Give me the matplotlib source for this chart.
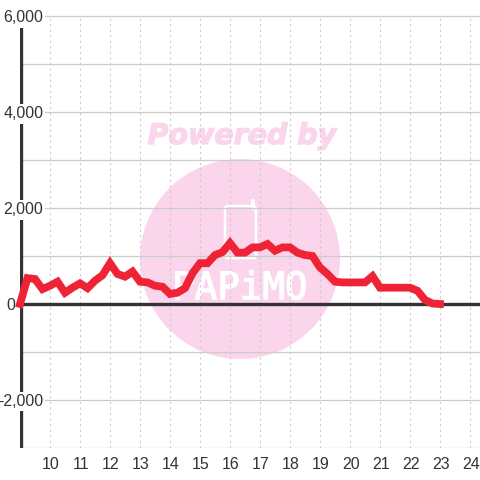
import matplotlib
matplotlib.use("Agg")
import matplotlib.pyplot as plt
import matplotlib.patheffects as pe
from matplotlib.patches import Circle, FancyBboxPatch

hours = [9 + i * 0.25 for i in range(57)]
values = [0, 540, 520, 310, 380, 465, 235, 340, 430, 330, 485, 600, 850, 625, 570, 675,
          465, 450, 380, 360, 210, 235, 330, 640, 850, 850, 1020, 1080, 1270, 1070, 1070, 1180,
          1180, 1250, 1110, 1180, 1180, 1070, 1020, 1000, 760, 625, 465, 450, 450, 450, 450, 580,
          340, 340, 340, 340, 340, 275, 85, 10, 0]
x_ticks = list(range(10, 25))
y_labels = ["6,000", "4,000", "2,000", "-2,000"]
y_label_values = [6000, 4000, 2000, -2000]
y_grid = [-2000, -1000, 1000, 2000, 3000, 4000, 5000]

plt.rcParams["font.family"] = ["Liberation Sans", "DejaVu Sans"]

fig = plt.figure(figsize=(4.8, 4.8), dpi=100)
ax = fig.add_axes([20 / 480, 32 / 480, 460 / 480, 464 / 480])
ax.set_xlim(9, 9 + 460 / 30)
ax.set_ylim(-3000, 6667)
ax.patch.set_visible(False)
for s in ax.spines.values():
    s.set_visible(False)
ax.set_xticks([])
ax.set_yticks([])

# watermark, sits under the grid
bg = fig.add_axes([0, 0, 1, 1], zorder=-1)
bg.set_xlim(0, 480)
bg.set_ylim(480, 0)
bg.axis("off")
bg.add_patch(Circle((240, 259), 100, color="#fbd5ec", lw=0))
bg.text(242, 136, "Powered by", color="#fbd5ec", fontsize=20.5, ha="center", va="center",
        family="DejaVu Sans", weight="bold", style="italic",
        path_effects=[pe.withStroke(linewidth=1.0, foreground="#fbd5ec")])
bg.add_patch(FancyBboxPatch((225, 206), 31, 52, boxstyle="round,pad=0,rounding_size=3",
                            fc="none", ec="white", lw=1.8))
bg.plot([253, 253], [201, 208], color="white", lw=3, solid_capstyle="round")
bg.text(240, 289, "PAPiMO", color="white", fontsize=27, ha="center", va="center",
        family="DejaVu Sans Mono",
        path_effects=[pe.withStroke(linewidth=1.0, foreground="white")])

for v in x_ticks:
    ax.plot([v, v], [-3000, 6000], color="#cccccc", lw=0.8, ls=(0, (2, 3)), zorder=1)
    ax.text(v + 0.03, -3190, str(v), ha="center", va="top", fontsize=11.5, color="#333333")

for v in y_grid + [6000, -3000]:
    ax.plot([9, 24.4], [v, v], color="#cccccc", lw=0.9, zorder=1)

ax.plot([9.02, 9.02], [-3000, 6000], color="#333333", lw=2.4, zorder=2, solid_capstyle="butt")
ax.plot([9, 24.4], [0, 0], color="#333333", lw=2.4, zorder=2, solid_capstyle="butt")

for v, s in zip(y_label_values, y_labels):
    ax.text(9.78, v - 40, s, ha="right", va="center", fontsize=11.5, color="#333333", zorder=3,
            bbox=dict(fc="white", ec="none", pad=1.5))
ax.text(8.85, -40, "0", ha="right", va="center", fontsize=11.5, color="#333333", zorder=3)

ax.plot(hours, values, color="#ee2336", lw=5.6, zorder=4, solid_joinstyle="miter",
        solid_capstyle="projecting", clip_on=False)

fig.savefig("out.png", dpi=100)
